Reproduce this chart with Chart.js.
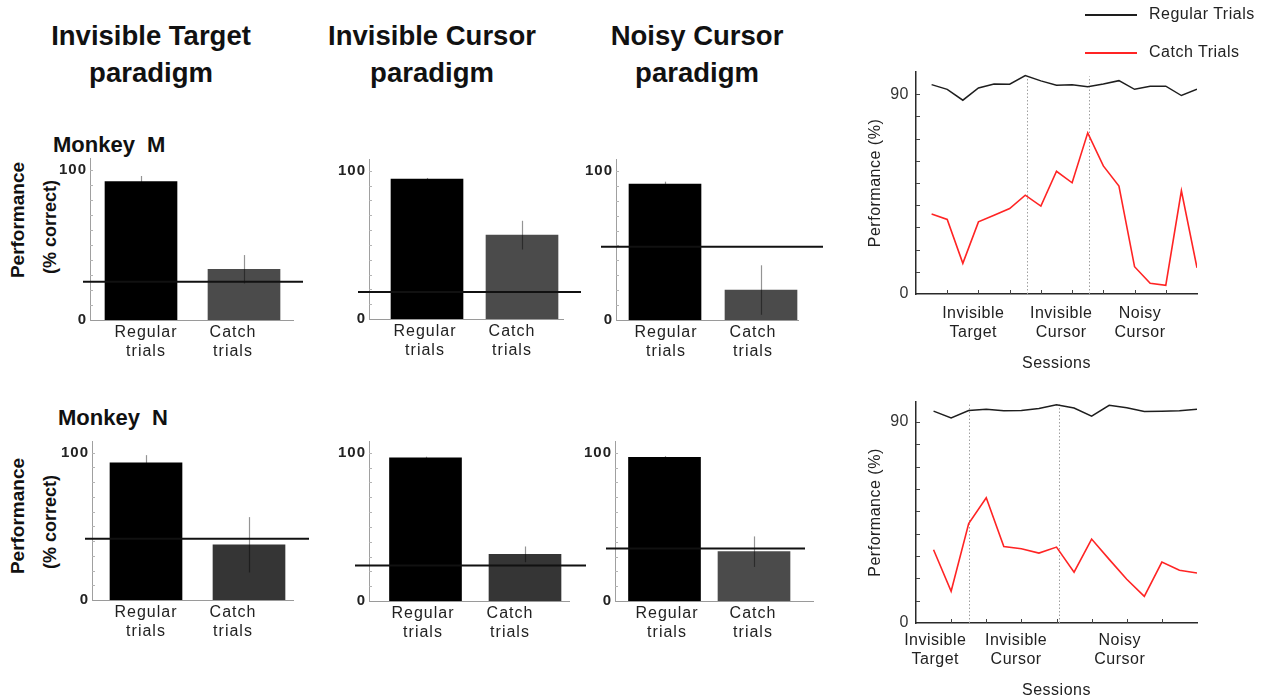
<!DOCTYPE html>
<html lang="en">
<head>
<meta charset="UTF-8">
<title>Catch trial performance</title>
<script src="https://cdn.jsdelivr.net/npm/chart.js"></script>
<style>
  body { margin: 0; background: #fff; font-family: 'Liberation Sans', Arial, sans-serif; color: #111; }
  #figure { position: relative; width: 1274px; height: 700px; overflow: hidden; }
  #figure canvas { position: absolute; }
  .header { position: absolute; width: 300px; text-align: center; font-size: 27.5px; font-weight: bold; line-height: 36.6px; }
  .monkey { position: absolute; font-size: 22px; font-weight: bold; line-height: 26px; word-spacing: 6px; }
  .ytitle { position: absolute; width: 160px; height: 24px; line-height: 24px; text-align: center; font-weight: bold; transform: rotate(-90deg); white-space: nowrap; }
  .legend-item { position: absolute; font-size: 16px; letter-spacing: 0.5px; color: #222; }
  .legend-line { position: absolute; width: 52px; height: 2px; }
</style>
</head>
<body>
<div id="figure">
  <div class="header" style="left:1px; top:18px;">Invisible Target<br>paradigm</div>
  <div class="header" style="left:282px; top:18px;">Invisible Cursor<br>paradigm</div>
  <div class="header" style="left:547px; top:18px;">Noisy Cursor<br>paradigm</div>

  <div class="monkey" style="left:53px; top:132px;">Monkey M</div>
  <div class="monkey" style="left:58px; top:405px;">Monkey N</div>

  <div class="ytitle" style="left:-62px; top:208px; font-size:19px;">Performance</div>
  <div class="ytitle" style="left:-30px; top:215px; font-size:18px;">(% correct)</div>
  <div class="ytitle" style="left:-62px; top:504px; font-size:19px;">Performance</div>
  <div class="ytitle" style="left:-30px; top:510px; font-size:18px;">(% correct)</div>

  <canvas id="barM1"></canvas>
  <canvas id="barM2"></canvas>
  <canvas id="barM3"></canvas>
  <canvas id="barN1"></canvas>
  <canvas id="barN2"></canvas>
  <canvas id="barN3"></canvas>
  <canvas id="sessionsM"></canvas>
  <canvas id="sessionsN"></canvas>
  <div id="legend"></div>
</div>

<script>
    const FONT = "'Liberation Sans', Arial, sans-serif";

    // x labels of the bar plots
    const trialLabels = [['Regular', 'trials'], ['Catch', 'trials']];

    // Monkey M, mean % correct: [regular, catch]
    const mInvisibleTarget = [92.2, 33.8];
    const mInvisibleCursor = [94.4, 56.6];
    const mNoisyCursor = [91.1, 20.1];
    // error bar half-lengths for the same bars
    const mInvisibleTargetErr = [3.8, 9.5];
    const mInvisibleCursorErr = [0.8, 9.7];
    const mNoisyCursorErr = [1.7, 16.6];
    // chance level: invisible target, invisible cursor, noisy cursor
    const mChance = [25.5, 18.2, 49.2];

    // Monkey N
    const nInvisibleTarget = [93.1, 37.5];
    const nInvisibleCursor = [96.6, 31.5];
    const nNoisyCursor = [97.0, 33.3];
    const nInvisibleTargetErr = [5.3, 18.8];
    const nInvisibleCursorErr = [0.8, 5.3];
    const nNoisyCursorErr = [0.8, 10.3];
    const nChance = [41.6, 24.0, 35.5];

    // performance per session
    const mRegularSessions = [94.3, 92.2, 87.3, 92.8, 94.6, 94.5, 98.4, 96.0, 94.0, 94.3, 93.4, 94.6, 96.1, 92.2, 93.6, 93.6, 89.4, 92.2];
    const mCatchSessions = [36.0, 33.6, 13.8, 32.5, 35.5, 38.5, 44.5, 39.6, 55.3, 50.1, 72.6, 57.7, 48.6, 12.3, 4.8, 3.9, 46.5, 11.8];
    const nRegularSessions = [94.9, 91.9, 95.2, 95.7, 95.1, 95.2, 96.1, 97.8, 96.3, 92.7, 97.5, 96.4, 94.8, 94.9, 95.1, 95.7];
    const nCatchSessions = [32.8, 14.2, 44.5, 56.1, 34.3, 33.3, 31.3, 34.0, 22.8, 37.6, 28.5, 19.6, 11.9, 27.3, 23.6, 22.4];
    // session position where the paradigm changes
    const mParadigmSwitch = [6.1, 10.1];
    const nParadigmSwitch = [2.03, 7.15];
    const sessionGroupLabels = [['Invisible', 'Target'], ['Invisible', 'Cursor'], ['Noisy', 'Cursor']];

    Chart.defaults.font.family = FONT;

    function placeCanvas(canvas, left, top, width, height) {
        canvas.width = Math.round(width);
        canvas.height = Math.round(height);
        canvas.style.left = Math.round(left) + 'px';
        canvas.style.top = Math.round(top) + 'px';
    }

    // ---------- bar panels ----------
    // top padding must cover half a tick label plus tick padding, or Chart.js shrinks the area
    const YW = 40, PAD_T = 14, PAD_R = 30, XH = 50, Y_MAX = 108;

    // axisX/axisEnd: pixel span of the x axis, y0/y100: pixel rows of 0 and 100,
    // bars: pixel centres of the bars, labels: pixel centres of the x labels
    const barPanels = [
        { id: 'barM1', values: mInvisibleTarget, err: mInvisibleTargetErr, chance: mChance[0], catchColor: '#4b4b4b',
          axisX: 90, axisEnd: 293, y0: 320, y100: 170, bars: [141, 244], labels: [146, 233], chanceFrom: -7, chanceTo: 10 },
        { id: 'barM2', values: mInvisibleCursor, err: mInvisibleCursorErr, chance: mChance[1], catchColor: '#4b4b4b',
          axisX: 369, axisEnd: 563, y0: 319.5, y100: 171, bars: [427, 522], labels: [425, 512], chanceFrom: -11, chanceTo: 18 },
        { id: 'barM3', values: mNoisyCursor, err: mNoisyCursorErr, chance: mChance[2], catchColor: '#4b4b4b',
          axisX: 616, axisEnd: 798, y0: 320, y100: 171, bars: [665, 761], labels: [666, 753], chanceFrom: -15, chanceTo: 25 },
        { id: 'barN1', values: nInvisibleTarget, err: nInvisibleTargetErr, chance: nChance[0], catchColor: '#353535',
          axisX: 92, axisEnd: 293, y0: 599.5, y100: 452.7, bars: [146, 249], labels: [146, 233], chanceFrom: -7, chanceTo: 16 },
        { id: 'barN2', values: nInvisibleCursor, err: nInvisibleCursorErr, chance: nChance[1], catchColor: '#353535',
          axisX: 369, axisEnd: 569, y0: 601.7, y100: 453.3, bars: [425.5, 525], labels: [423, 510], chanceFrom: -14, chanceTo: 17 },
        { id: 'barN3', values: nNoisyCursor, err: nNoisyCursorErr, chance: nChance[2], catchColor: '#4b4b4b',
          axisX: 615, axisEnd: 813, y0: 601.7, y100: 453.3, bars: [664.5, 754], labels: [667, 753], chanceFrom: -9, chanceTo: -8 }
    ];

    function barExtras(p) {
        return {
            id: 'barExtras',
            beforeDraw(chart) { chart.ctx.letterSpacing = '1px'; },
            afterDatasetsDraw(chart) {
                const { ctx, chartArea, scales: { x, y } } = chart;
                ctx.save();
                ctx.letterSpacing = '0px';
                // inner tick marks on the y axis
                ctx.strokeStyle = '#b4b4b4';
                ctx.lineWidth = 1;
                for (let v = 10; v <= 100; v += 10) {
                    const ty = Math.round(y.getPixelForValue(v)) + 0.5;
                    ctx.beginPath();
                    ctx.moveTo(chartArea.left, ty);
                    ctx.lineTo(chartArea.left + 3, ty);
                    ctx.stroke();
                }
                // error bars: translucent black, so they vanish over the black bars
                ctx.strokeStyle = 'rgba(0,0,0,0.42)';
                ctx.lineWidth = 1.2;
                p.values.forEach((v, i) => {
                    const px = Math.round(x.getPixelForValue(i + 1)) + 0.5;
                    ctx.beginPath();
                    ctx.moveTo(px, y.getPixelForValue(v - p.err[i]));
                    ctx.lineTo(px, y.getPixelForValue(v + p.err[i]));
                    ctx.stroke();
                });
                // chance level
                const cy = y.getPixelForValue(p.chance);
                ctx.strokeStyle = '#111';
                ctx.lineWidth = 2;
                ctx.beginPath();
                ctx.moveTo(chartArea.left + p.chanceFrom, cy);
                ctx.lineTo(chartArea.right + p.chanceTo, cy);
                ctx.stroke();
                ctx.restore();
            }
        };
    }

    barPanels.forEach(p => {
        const unit = p.bars[1] - p.bars[0];
        const xMin = 1 - (p.bars[0] - p.axisX) / unit;
        const xMax = 2 + (p.axisEnd - p.bars[1]) / unit;
        const toValue = px => xMin + (px - p.axisX) / unit;
        const labelValues = p.labels.map(toValue);

        const perUnit = (p.y0 - p.y100) / 100;
        const chartTop = p.y0 - Y_MAX * perUnit;
        const canvas = document.getElementById(p.id);
        placeCanvas(canvas, p.axisX - YW, chartTop - PAD_T,
            YW + (p.axisEnd - p.axisX) + PAD_R, PAD_T + (p.y0 - chartTop) + XH);

        new Chart(canvas, {
            type: 'bar',
            data: {
                datasets: [{
                    data: p.values.map((v, i) => ({ x: i + 1, y: v })),
                    backgroundColor: ['#000000', p.catchColor],
                    borderWidth: 0,
                    barThickness: 72
                }]
            },
            options: {
                responsive: false,
                animation: false,
                events: [],
                layout: { padding: { top: PAD_T, right: PAD_R, left: 0, bottom: 0 } },
                plugins: { legend: { display: false }, tooltip: { enabled: false } },
                scales: {
                    x: {
                        type: 'linear', min: xMin, max: xMax, offset: false,
                        grid: { display: false, drawTicks: false },
                        border: { color: '#9a9a9a', width: 1 },
                        afterBuildTicks: s => { s.ticks = labelValues.map(v => ({ value: v })); },
                        afterFit: s => { s.height = XH; },
                        ticks: {
                            autoSkip: false, maxRotation: 0, padding: 3, color: '#222',
                            font: { size: 16 },
                            callback: (v, i) => trialLabels[i]
                        }
                    },
                    y: {
                        min: 0, max: Y_MAX,
                        grid: { display: false, drawTicks: false },
                        border: { color: '#a0a0a0', width: 1 },
                        afterFit: s => { s.width = YW; },
                        ticks: {
                            stepSize: 10, includeBounds: false, autoSkip: false, padding: 3, color: '#222',
                            font: { size: 15, weight: 'bold' },
                            callback: v => (v === 0 || v === 100) ? v : ''
                        }
                    }
                }
            },
            plugins: [barExtras(p)]
        });
    });

    // ---------- session line plots ----------
    function sessionExtras(switches, count) {
        return {
            id: 'sessionExtras',
            beforeDraw(chart) { chart.ctx.letterSpacing = '0.5px'; },
            beforeDatasetsDraw(chart) {
                const { ctx, scales: { x, y } } = chart;
                ctx.save();
                ctx.strokeStyle = '#a0a0a0';
                ctx.lineWidth = 1;
                ctx.setLineDash([1.5, 2]);
                switches.forEach(s => {
                    const px = Math.round(x.getPixelForValue(s)) + 0.5;
                    ctx.beginPath();
                    ctx.moveTo(px, y.getPixelForValue(0));
                    ctx.lineTo(px, y.getPixelForValue(98));
                    ctx.stroke();
                });
                ctx.restore();
            },
            afterDraw(chart) {
                const { ctx, chartArea, scales: { x, y } } = chart;
                ctx.save();
                ctx.strokeStyle = '#444';
                ctx.lineWidth = 1;
                for (let v = 10; v <= 90; v += 10) {
                    const ty = Math.round(y.getPixelForValue(v)) + 0.5;
                    ctx.beginPath();
                    ctx.moveTo(chartArea.left, ty);
                    ctx.lineTo(chartArea.left + 4, ty);
                    ctx.stroke();
                }
                for (let i = 1; i < count - 1; i += 2) {
                    const tx = Math.round(x.getPixelForValue(i)) + 0.5;
                    ctx.beginPath();
                    ctx.moveTo(tx, chartArea.bottom);
                    ctx.lineTo(tx, chartArea.bottom - 4);
                    ctx.stroke();
                }
                ctx.restore();
            }
        };
    }

    function sessionChart(cfg) {
        const canvas = document.getElementById(cfg.id);
        const yw = 50, padT = 20, padR = 8;
        placeCanvas(canvas, cfg.left - yw, cfg.top - padT,
            yw + (cfg.right - cfg.left) + padR, padT + (cfg.bottom - cfg.top) + cfg.xh);
        const n = cfg.regular.length;
        return new Chart(canvas, {
            type: 'line',
            data: {
                datasets: [
                    { label: 'Regular Trials', data: cfg.regular.map((v, i) => ({ x: i, y: v })),
                      borderColor: '#1e1e1e', borderWidth: 1.5, pointRadius: 0, tension: 0 },
                    { label: 'Catch Trials', data: cfg.catchTrials.map((v, i) => ({ x: i, y: v })),
                      borderColor: '#ff2424', borderWidth: 1.6, pointRadius: 0, tension: 0 }
                ]
            },
            options: {
                responsive: false,
                animation: false,
                events: [],
                layout: { padding: { top: padT, right: padR, left: 0, bottom: 0 } },
                plugins: { legend: { display: false }, tooltip: { enabled: false } },
                scales: {
                    x: {
                        type: 'linear', min: -1, max: n - 1,
                        grid: { display: false, drawTicks: false },
                        border: { color: '#2a2a2a', width: 1.5 },
                        afterBuildTicks: s => { s.ticks = cfg.labelAt.map(v => ({ value: v })); },
                        afterFit: s => { s.height = cfg.xh; },
                        ticks: {
                            autoSkip: false, maxRotation: 0, padding: cfg.labelPad, color: '#222',
                            font: { size: 16 },
                            callback: (v, i) => sessionGroupLabels[i]
                        },
                        title: { display: true, text: 'Sessions', color: '#222', font: { size: 16 }, padding: 0 }
                    },
                    y: {
                        min: 0, max: cfg.yMax,
                        grid: { display: false, drawTicks: false },
                        border: { color: '#2a2a2a', width: 1.5 },
                        afterFit: s => { s.width = yw; },
                        ticks: {
                            stepSize: 10, includeBounds: false, autoSkip: false, padding: 7, color: '#333',
                            font: { size: 16 },
                            callback: v => (v === 0 || v === 90) ? v : ''
                        },
                        title: { display: true, text: 'Performance (%)', color: '#222', font: { size: 16 }, padding: 0 }
                    }
                }
            },
            plugins: [sessionExtras(cfg.switches, n)]
        });
    }

    const chartM = sessionChart({
        id: 'sessionsM', regular: mRegularSessions, catchTrials: mCatchSessions, switches: mParadigmSwitch,
        labelAt: [2.67, 8.3, 13.35], left: 916, right: 1197, top: 72, bottom: 294, xh: 79, labelPad: 10, yMax: 100
    });
    sessionChart({
        id: 'sessionsN', regular: nRegularSessions, catchTrials: nCatchSessions, switches: nParadigmSwitch,
        labelAt: [0.1, 4.7, 10.6], left: 916, right: 1197, top: 402, bottom: 623, xh: 77, labelPad: 8, yMax: 99
    });

    // legend built from the session datasets
    const legend = document.getElementById('legend');
    chartM.data.datasets.forEach((ds, i) => {
        const cy = 15 + i * 38;
        const line = document.createElement('div');
        line.className = 'legend-line';
        line.style.left = '1085px';
        line.style.top = (cy - 1) + 'px';
        line.style.background = ds.borderColor;
        const text = document.createElement('div');
        text.className = 'legend-item';
        text.style.left = '1149px';
        text.style.top = (cy - 10) + 'px';
        text.textContent = ds.label;
        legend.appendChild(line);
        legend.appendChild(text);
    });
</script>
</body>
</html>
